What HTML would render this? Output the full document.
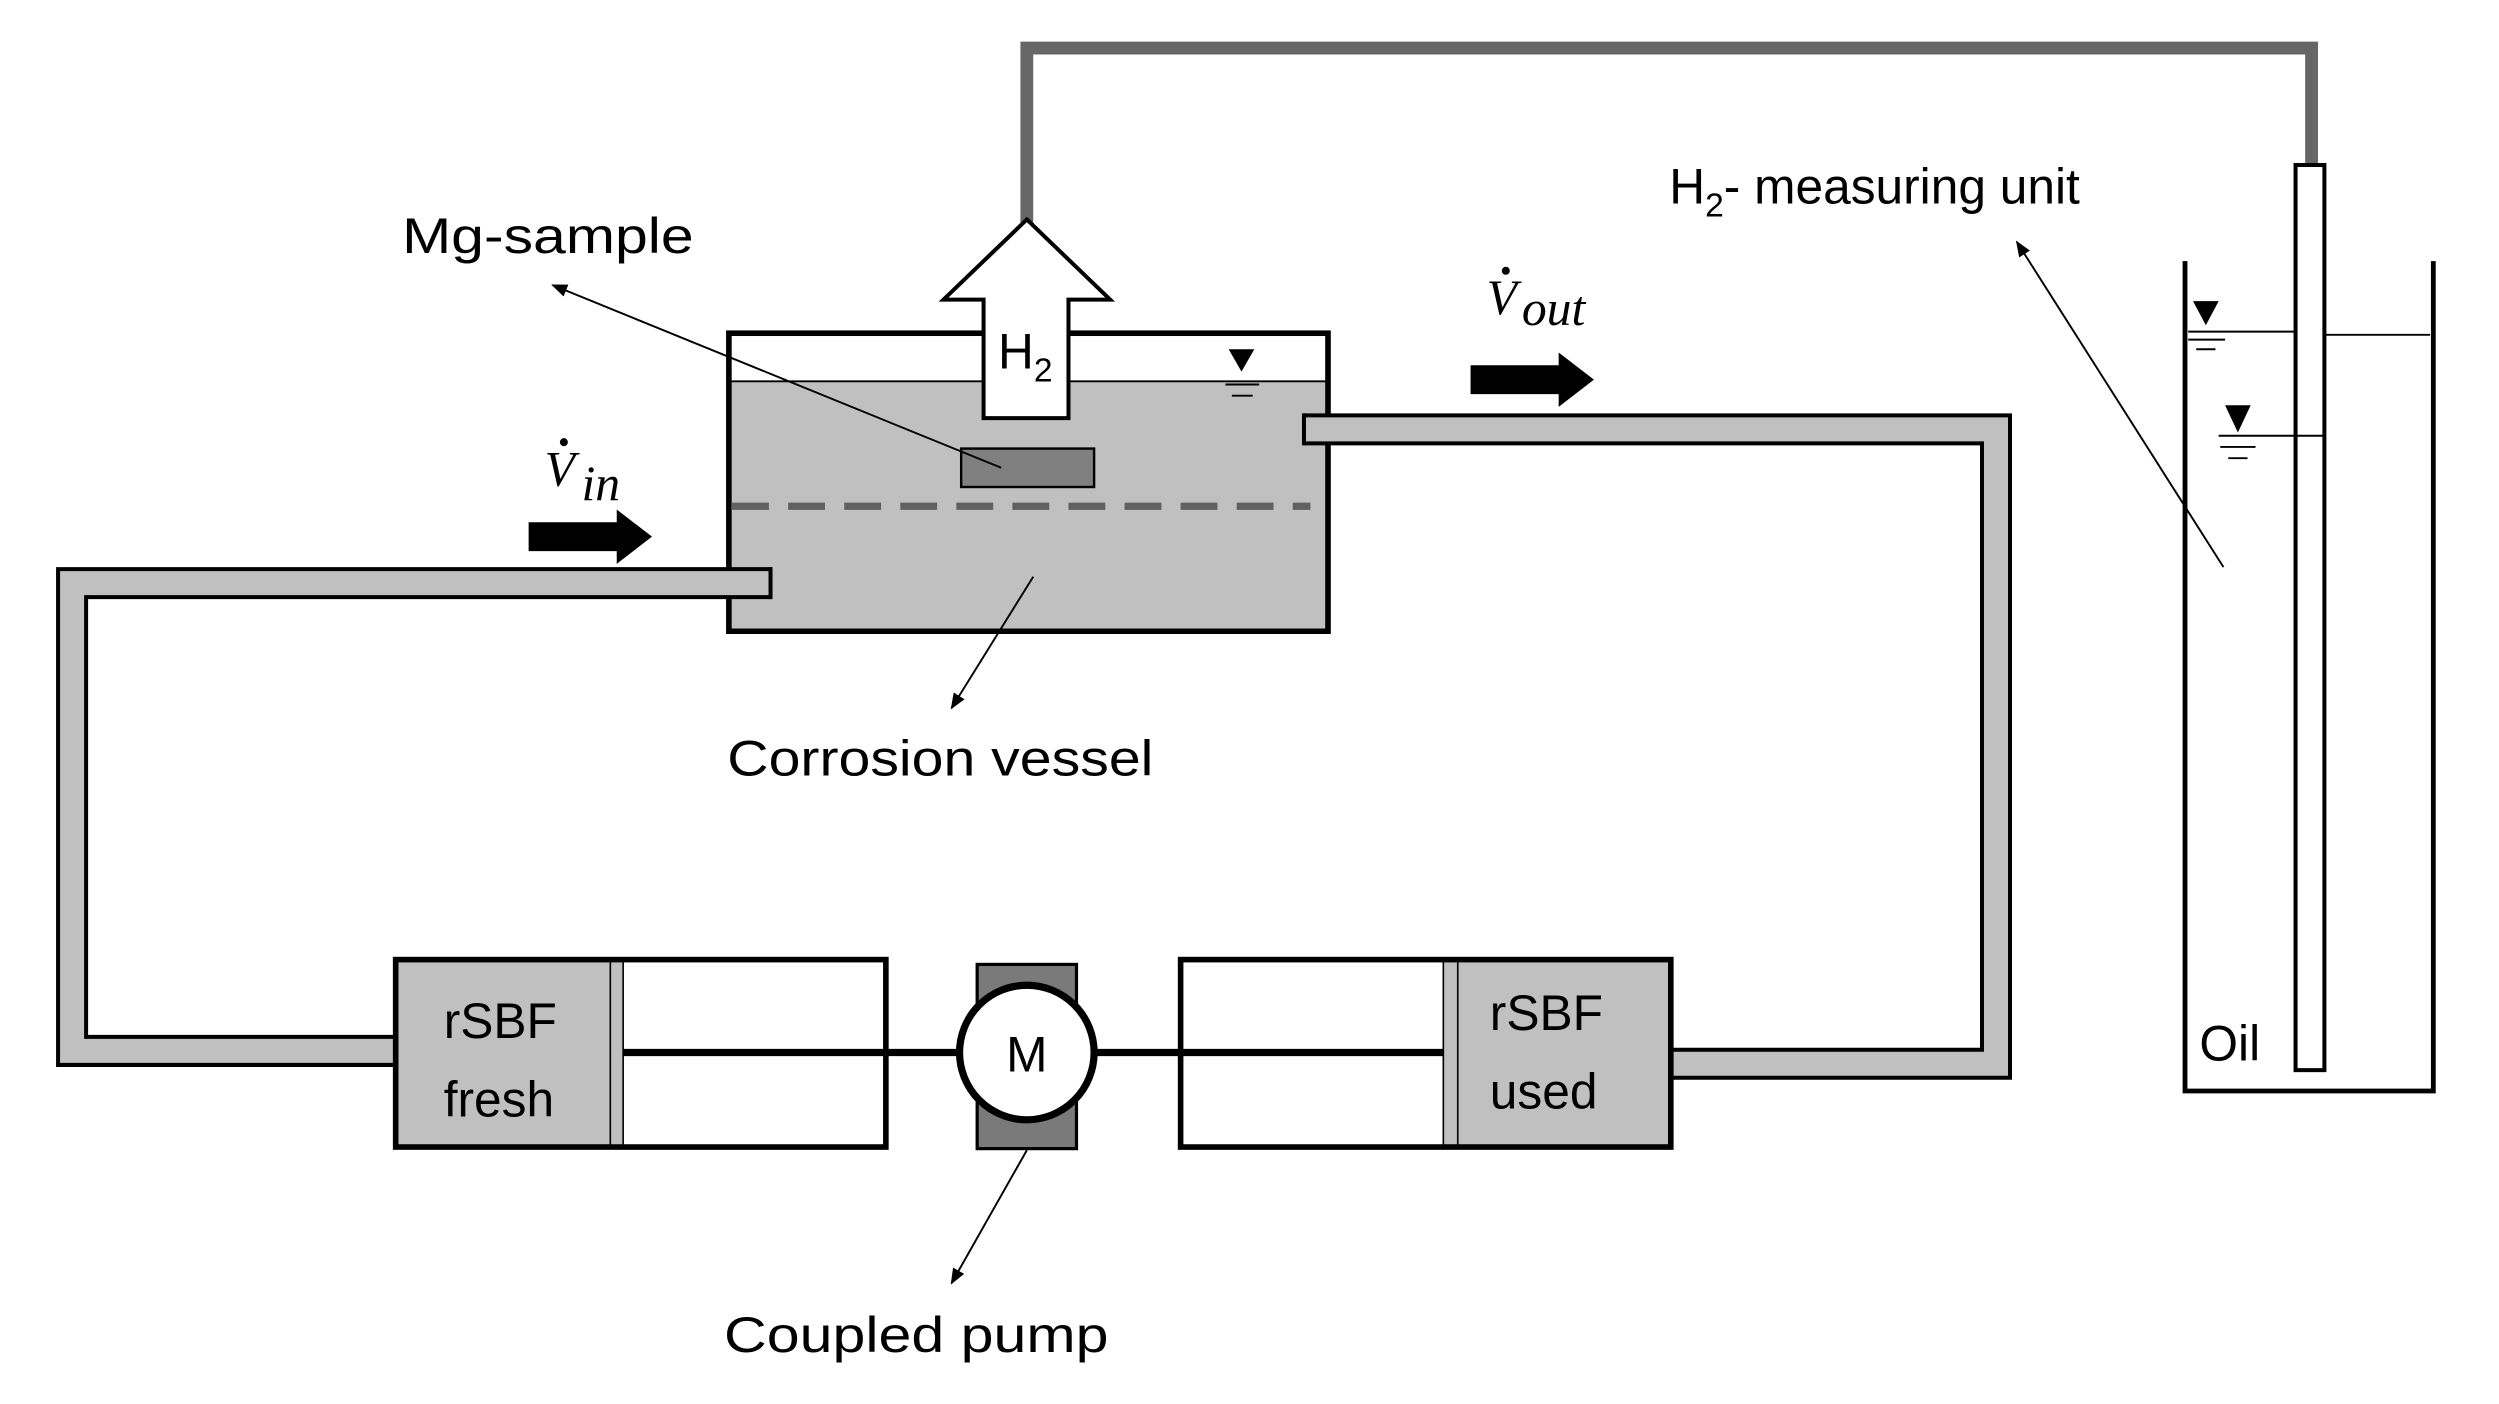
<!DOCTYPE html>
<html><head><meta charset="utf-8"><style>
html,body{margin:0;padding:0;background:#fff;}
svg{display:block;}
text{font-family:"Liberation Sans",sans-serif;font-size:31px;fill:#000;}
</style></head><body>
<svg width="2499" height="1404" viewBox="0 0 1560 876.4" preserveAspectRatio="none" xmlns="http://www.w3.org/2000/svg">
<defs>
<marker id="ah" markerWidth="10" markerHeight="10" refX="9" refY="5" orient="auto" markerUnits="userSpaceOnUse">
<path d="M0,1 L10,5 L0,9 z" fill="#000"/>
</marker>
</defs>
<!-- gas pipe -->
<path d="M641,140 L641,30 L1443,30 L1443,104" fill="none" stroke="#666" stroke-width="8"/>
<!-- vessel -->
<rect x="455" y="208" width="374" height="184" fill="#fff"/>
<rect x="455" y="238" width="374" height="154" fill="#c0c0c0"/>
<line x1="455" y1="238" x2="829" y2="238" stroke="#000" stroke-width="1.2"/>
<rect x="455" y="208" width="374" height="186" fill="none" stroke="#000" stroke-width="3.5"/>
<!-- inlet pipe -->
<path d="M481,364 L45,364 L45,656 L247,656" fill="none" stroke="#000" stroke-width="20"/>
<path d="M481,364 L45,364 L45,656 L247,656" fill="none" stroke="#c0c0c0" stroke-width="15"/>
<line x1="481" y1="354" x2="481" y2="374" stroke="#000" stroke-width="2.5"/>
<!-- outlet pipe -->
<path d="M814,268 L1246,268 L1246,664 L1044,664" fill="none" stroke="#000" stroke-width="20"/>
<path d="M814,268 L1246,268 L1246,664 L1044,664" fill="none" stroke="#c0c0c0" stroke-width="15"/>
<line x1="814" y1="258" x2="814" y2="278" stroke="#000" stroke-width="2.5"/>
<line x1="457" y1="316" x2="818" y2="316" stroke="#606060" stroke-width="4.5" stroke-dasharray="23,12"/>
<rect x="600" y="280" width="83" height="24" fill="#808080" stroke="#000" stroke-width="1.5"/>
<!-- level symbol -->
<path d="M767,218 L783,218 L775,232 z" fill="#000"/>
<line x1="765" y1="240" x2="786" y2="240" stroke="#000" stroke-width="1.2"/>
<line x1="769" y1="247" x2="782" y2="247" stroke="#000" stroke-width="1.2"/>
<!-- H2 arrow -->
<path d="M641,137 L693,187 L667,187 L667,261 L614,261 L614,187 L589,187 z" fill="#fff" stroke="#000" stroke-width="2.5"/>
<text x="623" y="230" font-size="30">H<tspan font-size="21" dy="8">2</tspan></text>
<!-- flow arrows -->
<path d="M330,326 L385,326 L385,318 L407,335 L385,352 L385,344 L330,344 z" fill="#000"/>
<path d="M918,228 L973,228 L973,220 L995,237 L973,254 L973,246 L918,246 z" fill="#000"/>
<text x="340" y="303" font-style="italic" font-size="34" style="font-family:'Liberation Serif',serif">V</text>
<text x="363" y="312" font-style="italic" font-size="28" style="font-family:'Liberation Serif',serif">in</text>
<circle cx="352" cy="276" r="2.5" fill="#000"/>
<text x="928" y="196" font-style="italic" font-size="34" style="font-family:'Liberation Serif',serif">V</text>
<text x="950" y="203" font-style="italic" font-size="28" style="font-family:'Liberation Serif',serif">out</text>
<circle cx="940" cy="169" r="2.5" fill="#000"/>
<!-- labels & leaders -->
<text x="251" y="158" textLength="182" lengthAdjust="spacingAndGlyphs">Mg-sample</text>
<line x1="625" y1="292" x2="345" y2="178" stroke="#000" stroke-width="1.2" marker-end="url(#ah)"/>
<text x="454" y="484" textLength="266" lengthAdjust="spacingAndGlyphs">Corrosion vessel</text>
<line x1="645" y1="360" x2="594" y2="442" stroke="#000" stroke-width="1.2" marker-end="url(#ah)"/>
<text x="452" y="844" textLength="240" lengthAdjust="spacingAndGlyphs">Coupled pump</text>
<line x1="641" y1="718" x2="594" y2="801" stroke="#000" stroke-width="1.2" marker-end="url(#ah)"/>
<text x="1042" y="127">H<tspan font-size="21" dy="8">2</tspan><tspan dy="-8">- measuring unit</tspan></text>
<line x1="1388" y1="354" x2="1259" y2="151" stroke="#000" stroke-width="1.2" marker-end="url(#ah)"/>
<!-- left syringe -->
<rect x="247" y="599" width="306" height="117" fill="#fff"/>
<rect x="247" y="599" width="134" height="117" fill="#c0c0c0"/>
<rect x="381" y="599" width="8" height="117" fill="#c0c0c0" stroke="#000" stroke-width="1"/>
<rect x="247" y="599" width="306" height="117" fill="none" stroke="#000" stroke-width="3.5"/>
<line x1="389" y1="657" x2="610" y2="657" stroke="#000" stroke-width="4.5"/>
<text x="277" y="648">rSBF</text>
<text x="277" y="697">fresh</text>
<!-- right syringe -->
<rect x="737" y="599" width="306" height="117" fill="#fff"/>
<rect x="910" y="599" width="133" height="117" fill="#c0c0c0"/>
<rect x="901" y="599" width="9" height="117" fill="#c0c0c0" stroke="#000" stroke-width="1"/>
<rect x="737" y="599" width="306" height="117" fill="none" stroke="#000" stroke-width="3.5"/>
<line x1="672" y1="657" x2="901" y2="657" stroke="#000" stroke-width="4.5"/>
<text x="930" y="643">rSBF</text>
<text x="930" y="692">used</text>
<!-- motor -->
<rect x="610" y="602" width="62" height="115" fill="#7a7a7a" stroke="#000" stroke-width="2"/>
<circle cx="641" cy="657" r="42" fill="#fff" stroke="#000" stroke-width="4.5"/>
<text x="641" y="669" text-anchor="middle">M</text>
<!-- measuring unit -->
<path d="M1364,163 L1364,681 L1519,681 L1519,163" fill="none" stroke="#000" stroke-width="3"/>
<rect x="1433" y="103" width="18" height="565" fill="#fff" stroke="#000" stroke-width="2.5"/>
<line x1="1366" y1="207" x2="1433" y2="207" stroke="#000" stroke-width="1.2"/>
<line x1="1451" y1="209" x2="1517" y2="209" stroke="#000" stroke-width="1.2"/>
<path d="M1369,188 L1385,188 L1377,203 z" fill="#000"/>
<line x1="1366" y1="212" x2="1389" y2="212" stroke="#000" stroke-width="1.2"/>
<line x1="1371" y1="218" x2="1383" y2="218" stroke="#000" stroke-width="1.2"/>
<line x1="1385" y1="272" x2="1451" y2="272" stroke="#000" stroke-width="1.2"/>
<path d="M1389,253 L1405,253 L1397,270 z" fill="#000"/>
<line x1="1386" y1="279" x2="1408" y2="279" stroke="#000" stroke-width="1.2"/>
<line x1="1391" y1="286" x2="1403" y2="286" stroke="#000" stroke-width="1.2"/>
<text x="1373" y="662">Oil</text>
</svg>
</body></html>
